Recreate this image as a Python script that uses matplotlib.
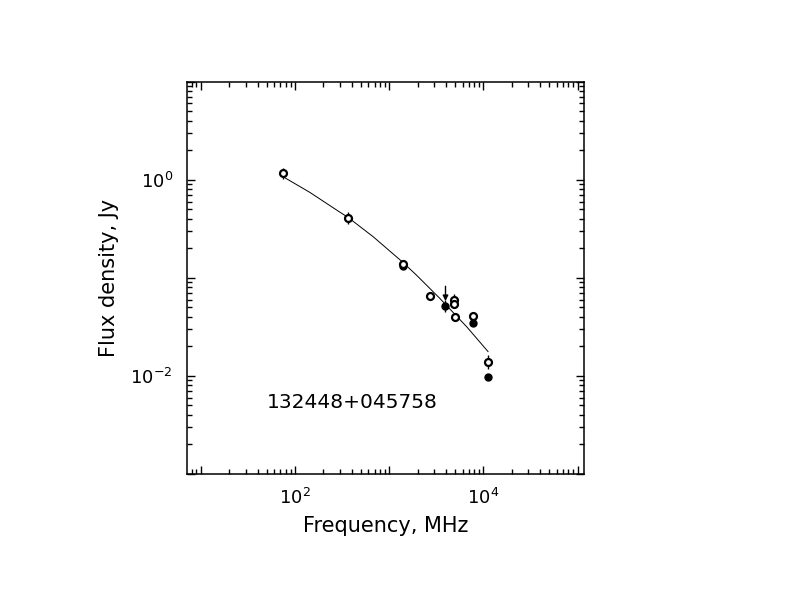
import numpy as np
import matplotlib
matplotlib.use('Agg')
import matplotlib.pyplot as plt
from matplotlib.ticker import LogLocator, FuncFormatter, NullFormatter

# measured points (MHz, Jy)
open_f = [74, 365, 1400, 2700, 4850, 4850, 5000, 7700, 11200]
open_s = [1.16, 0.405, 0.139, 0.0653, 0.0591, 0.0547, 0.0397, 0.0409, 0.0139]
open_err = [0.06, 0.06, 0.0, 0.0, 0.06, 0.0, 0.0, 0.03, 0.07]

filled_f = [1400, 3900, 7700, 11200]
filled_s = [0.133, 0.0517, 0.0348, 0.0098]
filled_err = [0.0, 0.06, 0.0, 0.0]

# upper limit
lim_f = [3960]
lim_s = [0.082]
lim_end = [0.058]

# fitted curve
curve_f = [74, 144, 301, 365, 678, 1390, 1960, 3460, 6650, 11200]
curve_s = [1.08, 0.743, 0.466, 0.414, 0.262, 0.1446, 0.106, 0.0615, 0.0317, 0.0177]

source = '132448+045758'

fig = plt.figure(figsize=(7.92, 6.12), dpi=100)
ax = fig.add_axes([0.2357, 0.2255, 0.5017, 0.641])

ax.plot(curve_f, curve_s, color='k', linewidth=0.7)

def dex_err(s, e):
    s = np.array(s)
    e = np.array(e)
    return [s - s / 10**e, s * 10**e - s]

ax.errorbar(filled_f, filled_s, yerr=dex_err(filled_s, filled_err), fmt='o', ms=5,
            mfc='k', mec='k', ecolor='k', elinewidth=1, capsize=0)
ax.errorbar(open_f, open_s, yerr=dex_err(open_s, open_err), fmt='o', ms=5,
            mfc='white', mec='k', mew=1.6, ecolor='k', elinewidth=1, capsize=0)
for f, s, e in zip(lim_f, lim_s, lim_end):
    ax.annotate('', xy=(f, e), xytext=(f, s),
                arrowprops=dict(arrowstyle='-|>', color='k', lw=1, mutation_scale=8,
                                shrinkA=0, shrinkB=0))

ax.set_xscale('log')
ax.set_yscale('log')
ax.set_xlim(7.08, 1.17e5)
ax.set_ylim(1e-3, 1e1)

def only_even(v, pos):
    p = int(round(np.log10(v)))
    if p % 2 == 0:
        return r'$10^{%d}$' % p
    return ''

for axis in (ax.xaxis, ax.yaxis):
    axis.set_major_locator(LogLocator(base=10, numticks=20))
    axis.set_minor_locator(LogLocator(base=10, subs=np.arange(2, 10), numticks=20))
    axis.set_major_formatter(FuncFormatter(only_even))
    axis.set_minor_formatter(NullFormatter())

ax.tick_params(which='both', direction='in', top=True, right=True, labelsize=13, width=1)
ax.tick_params(which='major', length=6, pad=10)
ax.tick_params(which='minor', length=3.5)
for sp in ax.spines.values():
    sp.set_linewidth(1.1)

ax.set_xlabel('Frequency, MHz', fontsize=15, labelpad=6)
ax.set_ylabel('Flux density, Jy', fontsize=15, labelpad=8)
ax.text(0.201, 0.182, source, transform=ax.transAxes, fontsize=14.5, va='center', ha='left')

plt.savefig('out.png', dpi=100)
